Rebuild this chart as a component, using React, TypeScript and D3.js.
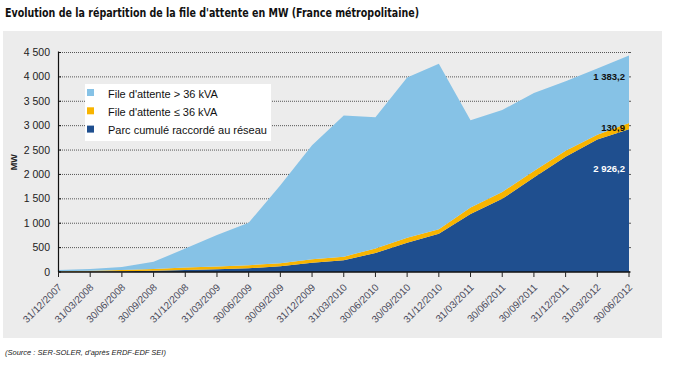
import React from "react";
import * as d3 from "d3";

const dates = [
  "31/12/2007", "31/03/2008", "30/06/2008", "30/09/2008", "31/12/2008",
  "31/03/2009", "30/06/2009", "30/09/2009", "31/12/2009", "31/03/2010",
  "30/06/2010", "30/09/2010", "31/12/2010", "31/03/2011", "30/06/2011",
  "30/09/2011", "31/12/2011", "31/03/2012", "30/06/2012",
];
const parcRaccorde = [5, 10, 15, 25, 40, 55, 75, 120, 190, 240, 390, 600, 785, 1190, 1500, 1935, 2365, 2715, 2926.2];
const fileBasse = [10, 15, 25, 35, 50, 60, 65, 60, 70, 75, 90, 100, 90, 130, 140, 135, 120, 100, 130.9];
const fileHaute = [25, 35, 60, 150, 390, 645, 870, 1600, 2340, 2895, 2690, 3290, 3395, 1790, 1680, 1600, 1425, 1355, 1383.2];
const yTicks = [0, 500, 1000, 1500, 2000, 2500, 3000, 3500, 4000, 4500];
const seriesNames = ["File d'attente > 36 kVA", "File d'attente ≤ 36 kVA", "Parc cumulé raccordé au réseau"];
const endLabels = ["1 383,2", "130,9", "2 926,2"];

const COLORS = { haute: "#86c2e6", basse: "#f8b400", parc: "#1f4f8f" };
const FONT = "'Liberation Sans', Arial, sans-serif";

export default function App() {
  const x = d3.scalePoint<string>().domain(dates).range([58.5, 629]);
  const y = d3.scaleLinear().domain([0, 4500]).range([272, 52.5]);

  const rows = dates.map((d, i) => ({ date: d, parc: parcRaccorde[i], basse: fileBasse[i], haute: fileHaute[i] }));
  const stack = d3.stack<any>().keys(["parc", "basse", "haute"]);
  const layers = stack(rows);
  const area = d3
    .area<any>()
    .x((d) => x(d.data.date) as number)
    .y0((d) => y(d[0]))
    .y1((d) => y(d[1]))
    .curve(d3.curveLinear);

  const colorOf: Record<string, string> = COLORS as any;
  const last = dates[dates.length - 1];
  const lastIdx = dates.length - 1;
  const topParc = parcRaccorde[lastIdx];
  const topBasse = topParc + fileBasse[lastIdx];
  const topHaute = topBasse + fileHaute[lastIdx];

  const legendColors = [COLORS.haute, COLORS.basse, COLORS.parc];

  return (
    <svg width={688} height={365} style={{ position: "absolute", left: 0, top: 0, background: "#fff" }}>
      <text
        x={5}
        y={17}
        fontFamily="'Liberation Sans Narrow', 'DejaVu Sans Condensed', sans-serif"
        fontWeight="bold"
        fontSize={13}
        fill="#111"
        textLength={414}
        lengthAdjust="spacingAndGlyphs"
      >
        Evolution de la répartition de la file d'attente en MW (France métropolitaine)
      </text>
      <rect x={3} y={31} width={659} height={307} fill="#ececec" />

      {/* gridlines */}
      {yTicks.slice(1).map((t) => (
        <line key={t} x1={58} x2={629} y1={y(t)} y2={y(t)} stroke="#555" strokeWidth={1} strokeDasharray="1,1" />
      ))}

      {/* areas */}
      {layers.map((l) => (
        <path key={l.key} d={area(l) as string} fill={colorOf[l.key]} />
      ))}

      {/* right small ticks */}
      {yTicks.map((t) => (
        <line key={"r" + t} x1={629} x2={631} y1={y(t)} y2={y(t)} stroke="#555" />
      ))}

      {/* y axis */}
      <line x1={58.5} x2={58.5} y1={y(4500) - 1} y2={y(0)} stroke="#111" strokeWidth={1.2} />
      {yTicks.map((t) => (
        <g key={"y" + t}>
          <line x1={58.5} x2={61} y1={y(t)} y2={y(t)} stroke="#111" />
          <text x={50} y={y(t) + 3.5} textAnchor="end" fontFamily={FONT} fontSize={10.5} fill="#222">
            {d3.format(",")(t).replace(/,/g, " ")}
          </text>
        </g>
      ))}
      <text
        transform={`translate(17,${(y(0) + y(4500)) / 2}) rotate(-90)`}
        textAnchor="middle"
        fontFamily={FONT}
        fontSize={9}
        fontWeight="bold"
        fill="#222"
      >
        MW
      </text>

      {/* x axis */}
      <line x1={58} x2={630} y1={y(0)} y2={y(0)} stroke="#111" strokeWidth={1.5} />
      {dates.map((d) => (
        <g key={d}>
          <line x1={x(d)} x2={x(d)} y1={y(0)} y2={y(0) + 5} stroke="#222" />
          <text
            transform={`translate(${(x(d) as number) + 4},${y(0) + 16}) rotate(-45)`}
            textAnchor="end"
            fontFamily={FONT}
            fontSize={10}
            fill="#4a4a5a"
          >
            {d}
          </text>
        </g>
      ))}

      {/* end labels */}
      <text x={625} y={y(topBasse + fileHaute[lastIdx] * 0.63)} textAnchor="end" fontFamily={FONT} fontWeight="bold" fontSize={9.5} fill="#111">
        {endLabels[0]}
      </text>
      <text x={625} y={131} textAnchor="end" fontFamily={FONT} fontWeight="bold" fontSize={9.5} fill="#111">
        {endLabels[1]}
      </text>
      <text x={625} y={172} textAnchor="end" fontFamily={FONT} fontWeight="bold" fontSize={9.5} fill="#fff">
        {endLabels[2]}
      </text>

      {/* legend */}
      <rect x={85} y={84} width={186} height={57} fill="#fff" />
      {seriesNames.map((n, i) => (
        <g key={n}>
          <rect x={87} y={89 + i * 18.3} width={7} height={7} fill={legendColors[i]} />
          <text x={108} y={97.5 + i * 18.3} fontFamily={FONT} fontSize={11} fill="#111">
            {n}
          </text>
        </g>
      ))}

      <text x={5} y={355} fontFamily={FONT} fontStyle="italic" fontSize={7.5} fill="#222">
        (Source : SER-SOLER, d'après ERDF-EDF SEI)
      </text>
    </svg>
  );
}
